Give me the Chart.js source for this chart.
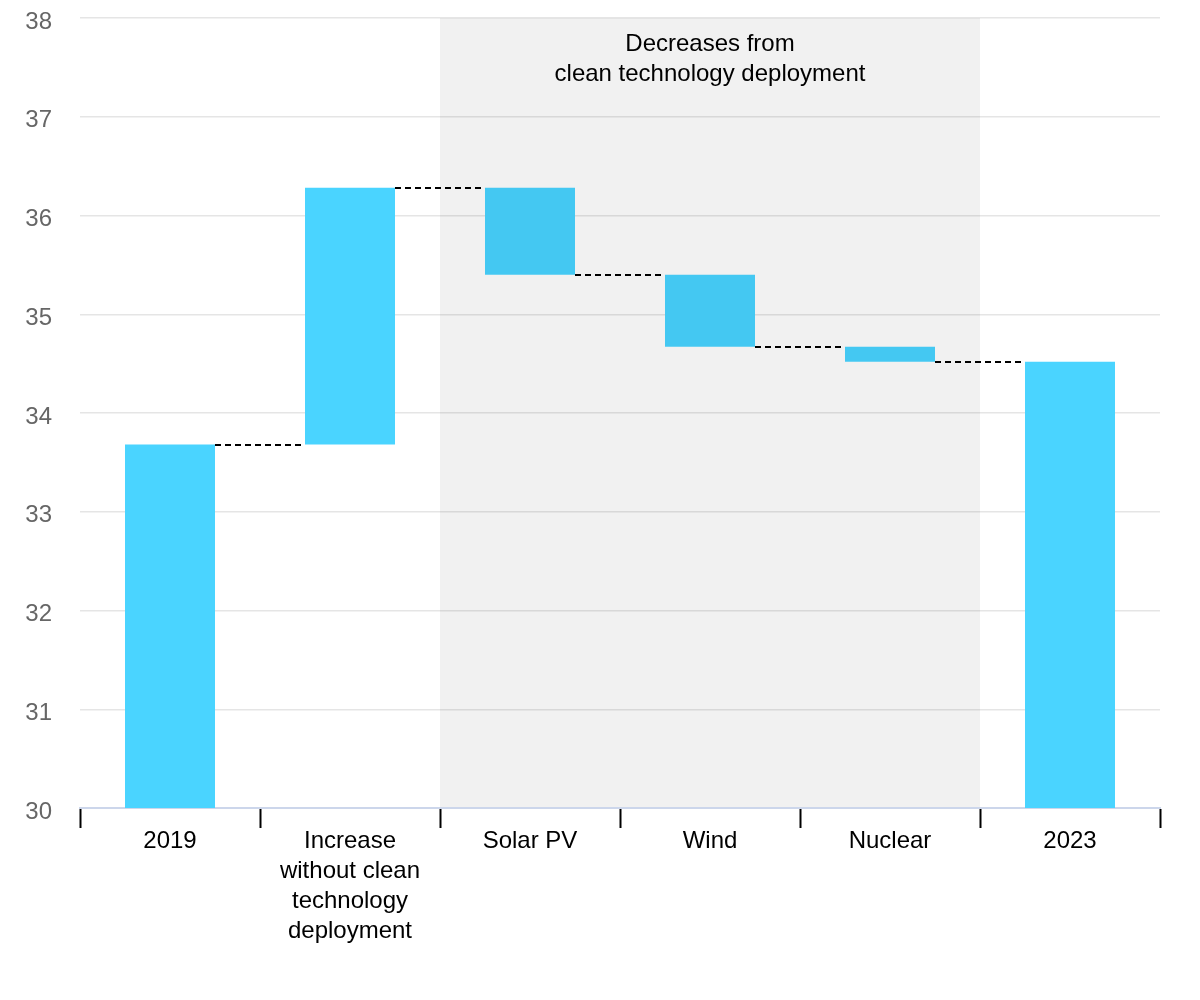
<!DOCTYPE html>
<html>
<head>
<meta charset="utf-8">
<script src="https://cdn.jsdelivr.net/npm/chart.js@4"></script>
<style>
  html, body { margin: 0; padding: 0; background: #fff; }
  #wrap { width: 1200px; height: 1000px; position: relative; }
</style>
</head>
<body>
<div id="wrap"><canvas id="chart"></canvas></div>
<script>
// --- datos del gráfico ---
const categories = ['2019', ['Increase', 'without clean', 'technology', 'deployment'], 'Solar PV', 'Wind', 'Nuclear', '2023'];
const startValue = 33.68;
const changes = [2.6, -0.88, -0.73, -0.15];   // aumento y reducciones
const endValue = 34.52;
const yTicks = [30, 31, 32, 33, 34, 35, 36, 37, 38];
const bandText = ['Decreases from', 'clean technology deployment'];
const bandFrom = 2, bandTo = 4;   // categorías dentro de la zona gris

const baseColor = '#4AD4FF';
const decColor = '#44C8F2';

// rangos flotantes [bajo, alto] de cada barra
const ranges = [[yTicks[0], startValue]];
let running = startValue;
changes.forEach(c => {
    const next = running + c;
    ranges.push([Math.min(running, next), Math.max(running, next)]);
    running = next;
});
ranges.push([yTicks[0], endValue]);
// nivel donde termina cada barra (para las líneas punteadas)
const levels = [startValue];
running = startValue;
changes.forEach(c => { running += c; levels.push(running); });

const barColors = ranges.map((r, i) => (i >= bandFrom && i <= bandTo) ? decColor : baseColor);

// zona gris + texto
const bandPlugin = {
    id: 'band',
    beforeDraw(chart) {
        const { ctx, chartArea, scales } = chart;
        const x = scales.x;
        const half = (x.getPixelForValue(1) - x.getPixelForValue(0)) / 2;
        const left = x.getPixelForValue(bandFrom) - half;
        const right = x.getPixelForValue(bandTo) + half;
        ctx.save();
        ctx.fillStyle = '#F1F1F1';
        ctx.fillRect(left, chartArea.top, right - left, chartArea.bottom - chartArea.top);
        ctx.fillStyle = '#000';
        ctx.font = '24px "Liberation Sans", Arial, sans-serif';
        ctx.textAlign = 'center';
        ctx.textBaseline = 'middle';
        const cx = (left + right) / 2;
        bandText.forEach((t, i) => ctx.fillText(t, cx, 44 + i * 30));
        ctx.restore();
    }
};

// líneas punteadas entre barras
const connectorPlugin = {
    id: 'connectors',
    afterDatasetsDraw(chart) {
        const { ctx, scales } = chart;
        const meta = chart.getDatasetMeta(0);
        ctx.save();
        ctx.strokeStyle = '#000';
        ctx.lineWidth = 2;
        ctx.setLineDash([6, 4]);
        levels.forEach((lv, i) => {
            const a = meta.data[i], b = meta.data[i + 1];
            if (!a || !b) return;
            const y = Math.round(scales.y.getPixelForValue(lv));
            ctx.beginPath();
            ctx.moveTo(a.x + a.width / 2, y);
            ctx.lineTo(b.x - b.width / 2, y);
            ctx.stroke();
        });
        ctx.restore();
    }
};

new Chart(document.getElementById('chart'), {
    type: 'bar',
    data: {
        labels: categories,
        datasets: [{
            data: ranges,
            backgroundColor: barColors,
            borderWidth: 0,
            borderSkipped: false,
            barPercentage: 0.5,
            categoryPercentage: 1
        }]
    },
    options: {
        responsive: true,
        maintainAspectRatio: false,
        animation: false,
        layout: { padding: { top: 18, right: 40, bottom: 0, left: 0 } },
        plugins: { legend: { display: false }, tooltip: { enabled: false } },
        scales: {
            x: {
                afterFit(scale) { scale.height = 192; },
                grid: {
                    offset: true,
                    drawOnChartArea: false,
                    drawTicks: true,
                    tickLength: 20,
                    tickColor: '#000',
                    tickWidth: 2
                },
                border: { display: true, color: '#CCD6EB', width: 2 },
                ticks: {
                    color: '#000',
                    padding: -2,
                    maxRotation: 0,
                    autoSkip: false,
                    font: { family: '"Liberation Sans", Arial, sans-serif', size: 24, lineHeight: 1.25 }
                }
            },
            y: {
                min: yTicks[0],
                max: yTicks[yTicks.length - 1],
                afterFit(scale) {
                    scale.width = 80;
                    scale.paddingTop = 0;
                    scale.paddingBottom = 0;
                },
                afterBuildTicks(scale) { scale.ticks = yTicks.map(v => ({ value: v })); },
                grid: {
                    color: ctx => ctx.tick && ctx.tick.value === yTicks[0] ? 'rgba(0,0,0,0)' : 'rgba(0,0,0,0.1)',
                    lineWidth: 1.5,
                    drawTicks: false
                },
                border: { display: false },
                ticks: {
                    color: '#666',
                    padding: 28,
                    labelOffset: 4,
                    font: { family: '"Liberation Sans", Arial, sans-serif', size: 24 }
                }
            }
        }
    },
    plugins: [bandPlugin, connectorPlugin]
});
</script>
</body>
</html>
